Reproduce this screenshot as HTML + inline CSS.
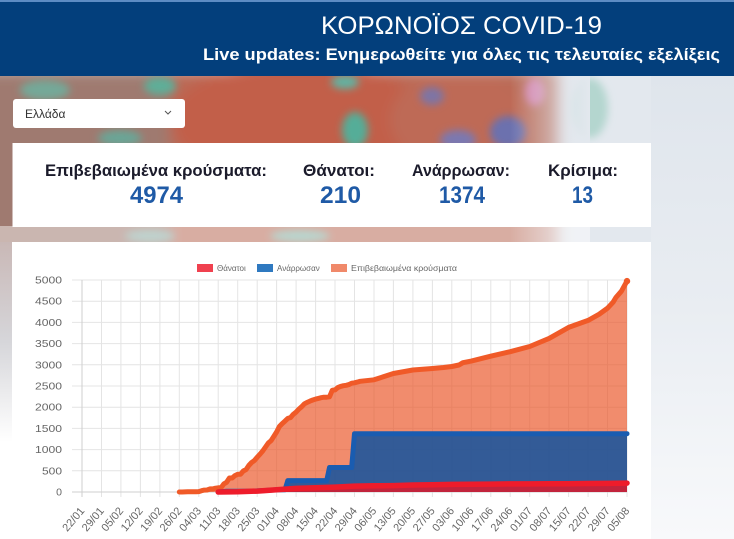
<!DOCTYPE html>
<html><head><meta charset="utf-8"><style>
html,body{margin:0;padding:0;background:#fff;}
svg{display:block;}
</style></head><body>
<svg width="734" height="539" viewBox="0 0 734 539" xmlns="http://www.w3.org/2000/svg" font-family="'Liberation Sans', 'DejaVu Sans', sans-serif">
<defs>
<filter id="bl" x="-20%" y="-20%" width="140%" height="140%"><feGaussianBlur stdDeviation="7"/></filter>
<filter id="bl2" x="-30%" y="-30%" width="160%" height="160%"><feGaussianBlur stdDeviation="4"/></filter>
<linearGradient id="rightg" x1="0" y1="0" x2="0" y2="1">
<stop offset="0" stop-color="#dfe5ec"/><stop offset="0.5" stop-color="#e9edf2"/><stop offset="1" stop-color="#f8f9fb"/></linearGradient>
<linearGradient id="leftg" x1="0" y1="0" x2="0" y2="1">
<stop offset="0" stop-color="#c9b8b6"/><stop offset="0.5" stop-color="#d6d6da"/><stop offset="1" stop-color="#ffffff"/></linearGradient>
<linearGradient id="fadeR" x1="0" y1="0" x2="1" y2="0">
<stop offset="0" stop-color="#e3e8ee" stop-opacity="0"/><stop offset="1" stop-color="#e3e8ee" stop-opacity="1"/></linearGradient>
</defs>

<!-- background -->
<rect x="0" y="0" width="734" height="539" fill="#ffffff"/>
<rect x="0" y="76" width="734" height="180" fill="#e3e8ee"/>
<g filter="url(#bl)">
<rect x="-20" y="70" width="580" height="195" fill="#b96b57"/>
<rect x="-20" y="70" width="190" height="195" fill="#9f7a70"/>
<ellipse cx="300" cy="120" rx="130" ry="60" fill="#c25f48"/>
<ellipse cx="460" cy="120" rx="70" ry="50" fill="#be6a56"/>
</g>
<g filter="url(#bl2)">
<ellipse cx="45" cy="90" rx="25" ry="10" fill="#74a898"/>
<ellipse cx="160" cy="86" rx="16" ry="9" fill="#5fae98"/>
<ellipse cx="120" cy="138" rx="22" ry="8" fill="#6aa596"/>
<ellipse cx="355" cy="130" rx="13" ry="18" fill="#55ad98"/>
<ellipse cx="345" cy="82" rx="14" ry="7" fill="#62b2a2"/>
<ellipse cx="590" cy="108" rx="18" ry="30" fill="#b4d6cf"/>
<ellipse cx="508" cy="132" rx="18" ry="16" fill="#6c71ae"/>
<ellipse cx="458" cy="140" rx="18" ry="10" fill="#7c78b0"/>
<ellipse cx="432" cy="96" rx="12" ry="9" fill="#7e74a4"/>
<ellipse cx="535" cy="92" rx="10" ry="14" fill="#d47fab"/>
<ellipse cx="300" cy="236" rx="30" ry="6" fill="#7fb5a8"/>
<ellipse cx="150" cy="236" rx="25" ry="6" fill="#8ab0a8"/>
</g>
<rect x="510" y="76" width="80" height="180" fill="url(#fadeR)"/>
<rect x="0" y="226" width="590" height="18" fill="#ffffff" opacity="0.45"/>
<rect x="0" y="242" width="13" height="200" fill="url(#leftg)"/>
<rect x="651" y="76" width="83" height="463" fill="url(#rightg)"/>

<!-- header -->
<rect x="0" y="0" width="734" height="76" fill="#033f7c"/>
<rect x="0" y="0" width="734" height="2" fill="#5d8cc4"/>
<text x="321" y="34" font-size="25" fill="#ffffff" textLength="281" lengthAdjust="spacingAndGlyphs">ΚΟΡΩΝΟΪΟΣ COVID-19</text>
<text x="203" y="60" font-size="17" font-weight="bold" fill="#ffffff" textLength="517" lengthAdjust="spacingAndGlyphs">Live updates: Ενημερωθείτε για όλες τις τελευταίες εξελίξεις</text>

<!-- dropdown -->
<rect x="13" y="99" width="172" height="29" rx="3" fill="#ffffff"/>
<text x="25" y="118" font-size="12" fill="#333">Ελλάδα</text>
<path d="M165,111 l3,3 l3,-3" fill="none" stroke="#555" stroke-width="1"/>

<!-- stats card -->
<rect x="12.5" y="143" width="638.5" height="84" fill="#ffffff"/>
<g font-weight="bold" font-size="17" fill="#1b1b2b">
<text x="45" y="176" textLength="222" lengthAdjust="spacingAndGlyphs">Επιβεβαιωμένα κρούσματα:</text>
<text x="303" y="176" textLength="72" lengthAdjust="spacingAndGlyphs">Θάνατοι:</text>
<text x="412" y="176" textLength="98" lengthAdjust="spacingAndGlyphs">Ανάρρωσαν:</text>
<text x="548" y="176" textLength="70" lengthAdjust="spacingAndGlyphs">Κρίσιμα:</text>
</g>
<g font-weight="bold" font-size="24" fill="#1f5aa6">
<text x="130" y="203" textLength="53" lengthAdjust="spacingAndGlyphs">4974</text>
<text x="320" y="203" textLength="41" lengthAdjust="spacingAndGlyphs">210</text>
<text x="439" y="203" textLength="46" lengthAdjust="spacingAndGlyphs">1374</text>
<text x="572" y="203" textLength="21" lengthAdjust="spacingAndGlyphs">13</text>
</g>

<!-- chart card -->
<rect x="12" y="242" width="639" height="300" fill="#ffffff"/>

<!-- legend -->
<rect x="197" y="264" width="16" height="8" fill="#f0414f"/>
<text x="217" y="271" font-size="8" fill="#666">Θάνατοι</text>
<rect x="257" y="264" width="16" height="8" fill="#2f79c0"/>
<text x="277" y="271" font-size="8" fill="#666">Ανάρρωσαν</text>
<rect x="331" y="264" width="16" height="8" fill="#f0896a"/>
<text x="351" y="271" font-size="8" fill="#666" textLength="106" lengthAdjust="spacingAndGlyphs">Επιβεβαιωμένα κρούσματα</text>

<!-- grid -->
<g stroke="#e4e4e4" stroke-width="1">
<line x1="72" y1="280" x2="627" y2="280"/>
<line x1="72" y1="301.2" x2="627" y2="301.2"/>
<line x1="72" y1="322.4" x2="627" y2="322.4"/>
<line x1="72" y1="343.6" x2="627" y2="343.6"/>
<line x1="72" y1="364.8" x2="627" y2="364.8"/>
<line x1="72" y1="386" x2="627" y2="386"/>
<line x1="72" y1="407.2" x2="627" y2="407.2"/>
<line x1="72" y1="428.4" x2="627" y2="428.4"/>
<line x1="72" y1="449.6" x2="627" y2="449.6"/>
<line x1="72" y1="470.8" x2="627" y2="470.8"/>
<line x1="101.5" y1="280" x2="101.5" y2="497"/>
<line x1="120.9" y1="280" x2="120.9" y2="497"/>
<line x1="140.4" y1="280" x2="140.4" y2="497"/>
<line x1="159.9" y1="280" x2="159.9" y2="497"/>
<line x1="179.3" y1="280" x2="179.3" y2="497"/>
<line x1="198.8" y1="280" x2="198.8" y2="497"/>
<line x1="218.2" y1="280" x2="218.2" y2="497"/>
<line x1="237.7" y1="280" x2="237.7" y2="497"/>
<line x1="257.2" y1="280" x2="257.2" y2="497"/>
<line x1="276.6" y1="280" x2="276.6" y2="497"/>
<line x1="296.1" y1="280" x2="296.1" y2="497"/>
<line x1="315.6" y1="280" x2="315.6" y2="497"/>
<line x1="335.0" y1="280" x2="335.0" y2="497"/>
<line x1="354.5" y1="280" x2="354.5" y2="497"/>
<line x1="374.0" y1="280" x2="374.0" y2="497"/>
<line x1="393.4" y1="280" x2="393.4" y2="497"/>
<line x1="412.9" y1="280" x2="412.9" y2="497"/>
<line x1="432.4" y1="280" x2="432.4" y2="497"/>
<line x1="451.8" y1="280" x2="451.8" y2="497"/>
<line x1="471.3" y1="280" x2="471.3" y2="497"/>
<line x1="490.8" y1="280" x2="490.8" y2="497"/>
<line x1="510.2" y1="280" x2="510.2" y2="497"/>
<line x1="529.7" y1="280" x2="529.7" y2="497"/>
<line x1="549.1" y1="280" x2="549.1" y2="497"/>
<line x1="568.6" y1="280" x2="568.6" y2="497"/>
<line x1="588.1" y1="280" x2="588.1" y2="497"/>
<line x1="607.5" y1="280" x2="607.5" y2="497"/>
<line x1="627.0" y1="280" x2="627.0" y2="497"/>
</g>
<line x1="82" y1="280" x2="82" y2="497" stroke="#cfcfcf"/>
<line x1="72" y1="492" x2="627" y2="492" stroke="#cfcfcf"/>

<!-- y labels -->
<g font-size="10.5" fill="#666" text-anchor="end">
<text x="62" y="283.5" textLength="27" lengthAdjust="spacingAndGlyphs">5000</text>
<text x="62" y="304.7" textLength="27" lengthAdjust="spacingAndGlyphs">4500</text>
<text x="62" y="325.9" textLength="27" lengthAdjust="spacingAndGlyphs">4000</text>
<text x="62" y="347.1" textLength="27" lengthAdjust="spacingAndGlyphs">3500</text>
<text x="62" y="368.3" textLength="27" lengthAdjust="spacingAndGlyphs">3000</text>
<text x="62" y="389.5" textLength="27" lengthAdjust="spacingAndGlyphs">2500</text>
<text x="62" y="410.7" textLength="27" lengthAdjust="spacingAndGlyphs">2000</text>
<text x="62" y="431.9" textLength="27" lengthAdjust="spacingAndGlyphs">1500</text>
<text x="62" y="453.1" textLength="27" lengthAdjust="spacingAndGlyphs">1000</text>
<text x="62" y="474.3" textLength="20" lengthAdjust="spacingAndGlyphs">500</text>
<text x="62" y="495.5">0</text>
</g>

<!-- x labels -->
<g font-size="11" fill="#666" text-anchor="end">
<text transform="translate(85,511) rotate(-50)">22/01</text>
<text transform="translate(104.5,511) rotate(-50)">29/01</text>
<text transform="translate(123.9,511) rotate(-50)">05/02</text>
<text transform="translate(143.4,511) rotate(-50)">12/02</text>
<text transform="translate(162.9,511) rotate(-50)">19/02</text>
<text transform="translate(182.3,511) rotate(-50)">26/02</text>
<text transform="translate(201.8,511) rotate(-50)">04/03</text>
<text transform="translate(221.2,511) rotate(-50)">11/03</text>
<text transform="translate(240.7,511) rotate(-50)">18/03</text>
<text transform="translate(260.2,511) rotate(-50)">25/03</text>
<text transform="translate(279.6,511) rotate(-50)">01/04</text>
<text transform="translate(299.1,511) rotate(-50)">08/04</text>
<text transform="translate(318.6,511) rotate(-50)">15/04</text>
<text transform="translate(338.0,511) rotate(-50)">22/04</text>
<text transform="translate(357.5,511) rotate(-50)">29/04</text>
<text transform="translate(377.0,511) rotate(-50)">06/05</text>
<text transform="translate(396.4,511) rotate(-50)">13/05</text>
<text transform="translate(415.9,511) rotate(-50)">20/05</text>
<text transform="translate(435.4,511) rotate(-50)">27/05</text>
<text transform="translate(454.8,511) rotate(-50)">03/06</text>
<text transform="translate(474.3,511) rotate(-50)">10/06</text>
<text transform="translate(493.8,511) rotate(-50)">17/06</text>
<text transform="translate(513.2,511) rotate(-50)">24/06</text>
<text transform="translate(532.7,511) rotate(-50)">01/07</text>
<text transform="translate(552.1,511) rotate(-50)">08/07</text>
<text transform="translate(571.6,511) rotate(-50)">15/07</text>
<text transform="translate(591.1,511) rotate(-50)">22/07</text>
<text transform="translate(610.5,511) rotate(-50)">29/07</text>
<text transform="translate(630.0,511) rotate(-50)">05/08</text>
</g>

<!-- confirmed -->
<path fill="rgba(234,85,40,0.68)" d="M179.3,492 L179.3,492.0 182.1,492.0 184.9,491.9 187.7,491.8 190.4,491.7 193.2,491.7 196.0,491.7 198.8,491.6 201.6,490.7 204.3,490.1 207.1,490.0 209.9,488.9 212.7,488.9 215.5,488.2 218.2,487.8 221.0,487.8 223.8,483.9 226.6,482.3 229.4,478.0 232.2,478.0 234.9,475.6 237.7,474.3 240.5,474.3 243.3,471.0 246.1,469.5 248.8,465.5 251.6,462.5 254.4,460.5 257.2,457.2 260.0,454.2 262.7,451.0 265.5,447.0 268.3,443.0 271.1,440.6 273.9,436.3 276.6,432.0 279.4,426.5 282.2,423.6 285.0,421.1 287.8,418.4 290.5,417.6 293.3,414.3 296.1,412.1 298.9,409.1 301.7,406.7 304.4,403.8 307.2,402.4 310.0,401.1 312.8,400.0 315.6,399.1 318.4,398.4 321.1,397.7 323.9,397.2 326.7,397.2 329.5,396.8 332.3,390.2 335.0,389.9 337.8,387.6 340.6,386.4 343.4,385.7 346.2,385.3 348.9,384.6 351.7,383.2 354.5,382.8 357.3,382.1 360.1,381.3 374.0,379.8 393.4,373.5 412.9,370.0 432.4,368.5 443.5,367.5 451.8,366.5 459.0,365.0 462.9,362.7 471.3,361.1 490.7,356.2 510.2,351.7 529.7,346.5 549.1,338.4 568.6,327.4 588.1,320.4 599.2,314.2 607.5,308.2 613.1,302.2 615.9,297.5 618.7,294.3 621.4,291.2 624.2,286.1 627.0,281.1 L627,492 Z"/>
<polyline fill="none" stroke="#f05a28" stroke-width="5" stroke-linejoin="round" stroke-linecap="round" points="179.3,492.0 182.1,492.0 184.9,491.9 187.7,491.8 190.4,491.7 193.2,491.7 196.0,491.7 198.8,491.6 201.6,490.7 204.3,490.1 207.1,490.0 209.9,488.9 212.7,488.9 215.5,488.2 218.2,487.8 221.0,487.8 223.8,483.9 226.6,482.3 229.4,478.0 232.2,478.0 234.9,475.6 237.7,474.3 240.5,474.3 243.3,471.0 246.1,469.5 248.8,465.5 251.6,462.5 254.4,460.5 257.2,457.2 260.0,454.2 262.7,451.0 265.5,447.0 268.3,443.0 271.1,440.6 273.9,436.3 276.6,432.0 279.4,426.5 282.2,423.6 285.0,421.1 287.8,418.4 290.5,417.6 293.3,414.3 296.1,412.1 298.9,409.1 301.7,406.7 304.4,403.8 307.2,402.4 310.0,401.1 312.8,400.0 315.6,399.1 318.4,398.4 321.1,397.7 323.9,397.2 326.7,397.2 329.5,396.8 332.3,390.2 335.0,389.9 337.8,387.6 340.6,386.4 343.4,385.7 346.2,385.3 348.9,384.6 351.7,383.2 354.5,382.8 357.3,382.1 360.1,381.3 374.0,379.8 393.4,373.5 412.9,370.0 432.4,368.5 443.5,367.5 451.8,366.5 459.0,365.0 462.9,362.7 471.3,361.1 490.7,356.2 510.2,351.7 529.7,346.5 549.1,338.4 568.6,327.4 588.1,320.4 599.2,314.2 607.5,308.2 613.1,302.2 615.9,297.5 618.7,294.3 621.4,291.2 624.2,286.1 627.0,281.1"/>
<circle cx="627" cy="281.1" r="3.2" fill="#f05a28"/>

<!-- recovered -->
<path fill="rgba(30,85,155,0.9)" d="M218.2,492 L218.2,492.0 226.6,491.2 248.8,491.2 265.5,490.5 276.6,489.8 285.0,489.8 287.8,480.6 326.7,480.6 329.5,467.5 351.7,467.5 354.5,433.7 627.0,433.7 L627,492 Z"/>
<polyline fill="none" stroke="#1a5cb0" stroke-width="5" stroke-linejoin="round" stroke-linecap="round" points="218.2,492.0 226.6,491.2 248.8,491.2 265.5,490.5 276.6,489.8 285.0,489.8 287.8,480.6 326.7,480.6 329.5,467.5 351.7,467.5 354.5,433.7 627.0,433.7"/>

<!-- deaths -->
<path fill="rgba(210,30,50,0.9)" d="M218.2,492 L218.2,492.0 237.7,491.8 257.2,491.1 276.6,489.8 296.1,488.4 315.6,487.7 335.0,487.1 354.5,486.1 374.0,485.8 393.4,485.6 412.9,485.0 432.4,484.7 451.8,484.4 471.3,484.2 490.7,484.1 510.2,483.9 529.7,483.9 549.1,483.8 568.6,483.8 588.1,483.5 607.5,483.4 627.0,483.1 L627,492 Z"/>
<polyline fill="none" stroke="#ee1c2b" stroke-width="5.5" stroke-linejoin="round" stroke-linecap="round" points="218.2,492.0 237.7,491.8 257.2,491.1 276.6,489.8 296.1,488.4 315.6,487.7 335.0,487.1 354.5,486.1 374.0,485.8 393.4,485.6 412.9,485.0 432.4,484.7 451.8,484.4 471.3,484.2 490.7,484.1 510.2,483.9 529.7,483.9 549.1,483.8 568.6,483.8 588.1,483.5 607.5,483.4 627.0,483.1"/>
</svg>
</body></html>
